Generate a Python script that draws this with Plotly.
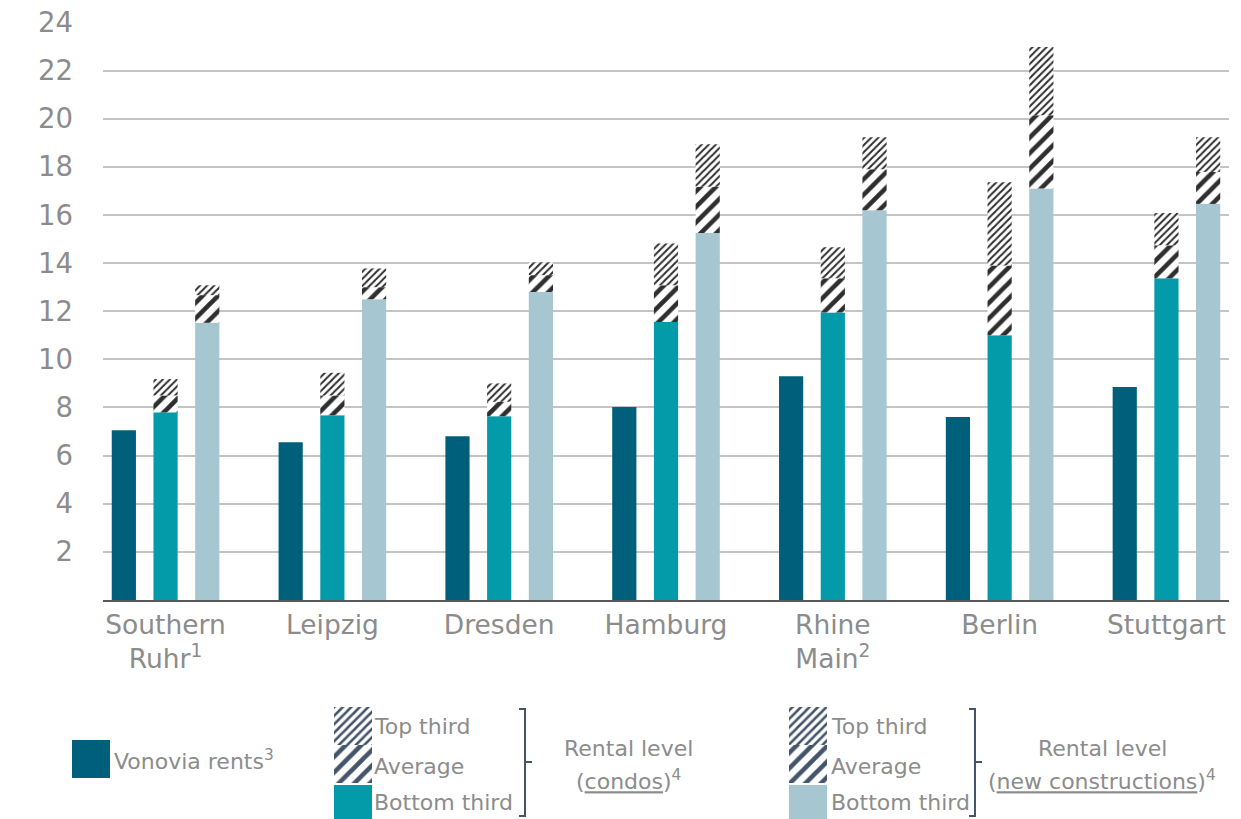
import plotly.graph_objects as go

# values (EUR per sqm)
cities = ["Southern<br>Ruhr<sup>1</sup>", "Leipzig", "Dresden", "Hamburg",
          "Rhine<br>Main<sup>2</sup>", "Berlin", "Stuttgart"]
vonovia = [7.05, 6.56, 6.8, 8.02, 9.3, 7.6, 8.85]
condo_bottom = [7.8, 7.68, 7.64, 11.55, 11.95, 11.0, 13.37]
condo_avg = [8.5, 8.5, 8.24, 13.08, 13.37, 13.9, 14.74]
condo_top = [9.18, 9.44, 9.0, 14.82, 14.66, 17.36, 16.08]
new_bottom = [11.52, 12.5, 12.8, 15.25, 16.2, 17.1, 16.46]
new_avg = [12.67, 13.0, 13.5, 17.17, 17.9, 20.14, 17.79]
new_top = [13.08, 13.78, 14.03, 18.94, 19.23, 22.98, 19.23]
y_ticks = list(range(2, 25, 2))

# the page body has an 8px margin, so the figure is drawn 8px smaller
OFF = 8
W, H = 1241, 819
FW, FH = W - OFF, H - OFF
LEG_H = 125  # height of the legend strip at the bottom (px)
C_VON = "#00607B"
C_CONDO = "#039BAA"
C_NEW = "#A6C6D1"
HATCH = "#2E2E2E"
SLATE = "#44546A"
GREY_TXT = "#8C8C8C"
FONT = "DejaVu Sans"

avg_pat = dict(shape="/", size=11, solidity=0.42, fgcolor=HATCH, bgcolor="white", fgopacity=1)
top_pat = dict(shape="/", size=5, solidity=0.4, fgcolor=HATCH, bgcolor="white", fgopacity=1)

fig = go.Figure()


def add_stack(bottom, avg, top, color, group):
    fig.add_trace(go.Bar(x=cities, y=bottom, offsetgroup=group,
                         marker=dict(color=color, line_width=0)))
    fig.add_trace(go.Bar(x=cities, y=[a - b for a, b in zip(avg, bottom)], base=bottom,
                         offsetgroup=group,
                         marker=dict(color="white", line_width=0, pattern=avg_pat)))
    fig.add_trace(go.Bar(x=cities, y=[t - a for t, a in zip(top, avg)], base=avg,
                         offsetgroup=group,
                         marker=dict(color="white", line_width=0, pattern=top_pat)))


fig.add_trace(go.Bar(x=cities, y=vonovia, offsetgroup="v",
                     marker=dict(color=C_VON, line_width=0)))
add_stack(condo_bottom, condo_avg, condo_top, C_CONDO, "c")
add_stack(new_bottom, new_avg, new_top, C_NEW, "n")

# legend swatches drawn on a pixel-scaled axis in the bottom strip
leg_avg = dict(shape="/", size=11, solidity=0.42, fgcolor=SLATE, bgcolor="white", fgopacity=1)
leg_top = dict(shape="/", size=6, solidity=0.42, fgcolor=SLATE, bgcolor="white", fgopacity=1)


def swatch(xc, ytop, h, color, pattern=None):
    m = dict(color=color, line_width=0)
    if pattern:
        m["pattern"] = pattern
    fig.add_trace(go.Bar(x=[xc], y=[h], base=[H - ytop - h], width=[38], offset=-19,
                         xaxis="x2", yaxis="y2", marker=m, hoverinfo="skip"))


swatch(91, 740, 38, C_VON)
for xc, col in [(353, C_CONDO), (808, C_NEW)]:
    swatch(xc, 707, 38, "white", leg_top)
    swatch(xc, 745, 38, "white", leg_avg)
    swatch(xc, 785, 34, col)

ann = []


def label(x, y, text, anchor="left"):
    ann.append(dict(x=x, y=H - y, xref="x2", yref="y2", text=text, showarrow=False,
                    xanchor=anchor, yanchor="middle",
                    font=dict(family=FONT, size=22, color=GREY_TXT)))


label(112, 760, "Vonovia rents<sup>3</sup>")
for xs in (372, 829):
    label(xs, 726, "Top third")
    label(xs, 766, "Average")
    label(xs, 802, "Bottom third")
label(628, 748, "Rental level", "center")
label(628, 780, "(<u>condos</u>)<sup>4</sup>", "center")
label(1102, 748, "Rental level", "center")
label(1102, 780, "(<u>new constructions</u>)<sup>4</sup>", "center")

shapes = []
for bx in (525, 975):
    pts = f"M {bx - 6},{H - 709} L {bx},{H - 709} L {bx},{H - 816} L {bx - 6},{H - 816}"
    shapes.append(dict(type="path", path=pts, xref="x2", yref="y2",
                       line=dict(color=SLATE, width=2)))
    shapes.append(dict(type="line", x0=bx, x1=bx + 7, y0=H - 762, y1=H - 762,
                       xref="x2", yref="y2", line=dict(color=SLATE, width=2)))

fig.update_layout(
    width=FW, height=FH,
    margin=dict(l=0, r=0, t=0, b=0),
    paper_bgcolor="white", plot_bgcolor="rgba(0,0,0,0)",
    barmode="group", bargap=0.25, bargroupgap=0.42,
    showlegend=False,
    font=dict(family=FONT, color=GREY_TXT),
    xaxis=dict(domain=[(103 - OFF) / FW, (1229 - OFF) / FW], range=[-0.375, 6.375],
               showline=True, linecolor="#595959", linewidth=2,
               showgrid=False, ticks="", automargin=False,
               tickfont=dict(size=26.5, color=GREY_TXT)),
    yaxis=dict(domain=[(H - 600) / FH, (H - 22) / FH], range=[0, 24.02],
               tickvals=y_ticks, showgrid=True, gridcolor="#C4C4C4", gridwidth=1.5,
               zeroline=False, showline=False, ticks="", automargin=False,
               ticklabelstandoff=29, ticklabeloverflow="allow",
               tickfont=dict(size=27.5, color=GREY_TXT)),
    # x2/y2 are in reference-image pixels (x from left, y from bottom)
    xaxis2=dict(domain=[0, 1], range=[OFF, W], visible=False, anchor="y2",
                fixedrange=True),
    yaxis2=dict(domain=[0, LEG_H / FH], range=[0, LEG_H], visible=False, anchor="x2",
                fixedrange=True),
    annotations=ann,
    shapes=shapes,
)

fig.write_html("out.html")
